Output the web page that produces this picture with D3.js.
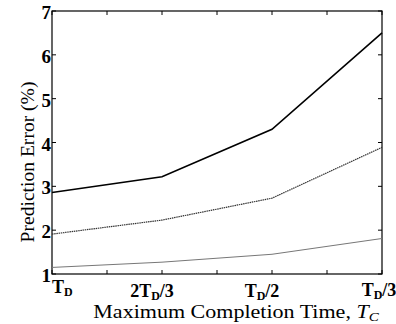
<!DOCTYPE html>
<html>
<head>
<meta charset="utf-8">
<script src="https://cdn.jsdelivr.net/npm/d3@7"></script>
<style>
  html, body { margin: 0; padding: 0; background: #fff; }
  svg { display: block; }
</style>
</head>
<body>
<svg id="chart" width="396" height="324"></svg>
<script>
// Completion-time settings (evenly spaced positions 1..4)
const categories = ["T_D", "2T_D/3", "T_D/2", "T_D/3"];
const xPositions = [1, 2, 3, 4];
const xTicks = [1, 1.5, 2, 2.5, 3, 3.5, 4];
const yTicks = [1, 2, 3, 4, 5, 6, 7];

// Prediction error (%) for each curve
const seriesHigh = [2.86, 3.22, 4.30, 6.50];
const seriesMid  = [1.91, 2.23, 2.73, 3.89];
const seriesLow  = [1.15, 1.27, 1.45, 1.81];

const FONT = "'Liberation Serif', 'Times New Roman', Times, serif";

const svg = d3.select("#chart");
const margin = { left: 52, right: 14, top: 11, bottom: 50 };
const W = 396, H = 324;

const x = d3.scaleLinear().domain([1, 4]).range([margin.left, W - margin.right]);
const y = d3.scaleLinear().domain([1, 7]).range([H - margin.bottom, margin.top]);

const tickLen = 4;

const g = svg.append("g").attr("font-family", FONT);

// Frame with inward ticks on all four sides
g.append("rect")
  .attr("x", x(1)).attr("y", y(7))
  .attr("width", x(4) - x(1)).attr("height", y(1) - y(7))
  .attr("fill", "none").attr("stroke", "#000").attr("stroke-width", 1.2);

xTicks.forEach(t => {
  g.append("line").attr("x1", x(t)).attr("x2", x(t))
    .attr("y1", y(1)).attr("y2", y(1) - tickLen).attr("stroke", "#000");
  g.append("line").attr("x1", x(t)).attr("x2", x(t))
    .attr("y1", y(7)).attr("y2", y(7) + tickLen).attr("stroke", "#000");
});
yTicks.forEach(t => {
  g.append("line").attr("x1", x(1)).attr("x2", x(1) + tickLen)
    .attr("y1", y(t)).attr("y2", y(t)).attr("stroke", "#000");
  g.append("line").attr("x1", x(4)).attr("x2", x(4) - tickLen)
    .attr("y1", y(t)).attr("y2", y(t)).attr("stroke", "#000");
});

// Y tick labels
yTicks.forEach(t => {
  g.append("text")
    .attr("x", x(1) - 1).attr("y", y(t) + 8)
    .attr("text-anchor", "end")
    .attr("font-size", 19).attr("font-weight", "bold")
    .text(t);
});

// X tick labels with subscript D (label anchors shifted slightly left of their ticks)
const labelShift = [0, -10, -10, -3];
const labelDrop = [19, 23, 23, 22];
function tickLabel(sel, label) {
  const m = label.match(/^(\d*)T_D(.*)$/);
  sel.append("tspan").text(m[1] + "T");
  sel.append("tspan").attr("font-size", 12).attr("dy", 2.5).text("D");
  sel.append("tspan").attr("dy", -2.5).text(m[2]);
}
categories.forEach((c, i) => {
  const t = g.append("text")
    .attr("x", x(xPositions[i]) + labelShift[i])
    .attr("y", y(1) + labelDrop[i])
    .attr("text-anchor", i === 0 ? "start" : "middle")
    .attr("font-size", 18).attr("font-weight", "bold");
  tickLabel(t, c);
});

// Stretch a text element along its own baseline to a given length
function fitLength(node, target, cx, cy, rotate) {
  const w = node.getBBox().width;
  const s = target / w;
  d3.select(node).attr("transform",
    `translate(${cx},${cy}) rotate(${rotate}) scale(${s},1)`);
}

// Axis titles
const xt = g.append("text")
  .attr("x", 0).attr("y", 0)
  .attr("text-anchor", "middle").attr("font-size", 19);
xt.append("tspan").text("Maximum Completion Time, ");
xt.append("tspan").attr("font-style", "italic").text("T");
xt.append("tspan").attr("font-style", "italic").attr("font-size", 13).attr("dy", 3).text("C");
fitLength(xt.node(), 286, 236, 318, 0);

const yt = g.append("text")
  .attr("x", 0).attr("y", 0)
  .attr("text-anchor", "middle").attr("font-size", 19)
  .text("Prediction Error (%)");
fitLength(yt.node(), 161, 33.5, 162, -90);

// Curves
const line = d3.line().x((d, i) => x(xPositions[i])).y(d => y(d));
g.append("path").datum(seriesLow).attr("d", line)
  .attr("fill", "none").attr("stroke", "#777").attr("stroke-width", 1);
g.append("path").datum(seriesMid).attr("d", line)
  .attr("fill", "none").attr("stroke", "#333").attr("stroke-width", 1.2)
  .attr("stroke-dasharray", "1.5,0.7");
g.append("path").datum(seriesHigh).attr("d", line)
  .attr("fill", "none").attr("stroke", "#000").attr("stroke-width", 1.6);
</script>
</body>
</html>
